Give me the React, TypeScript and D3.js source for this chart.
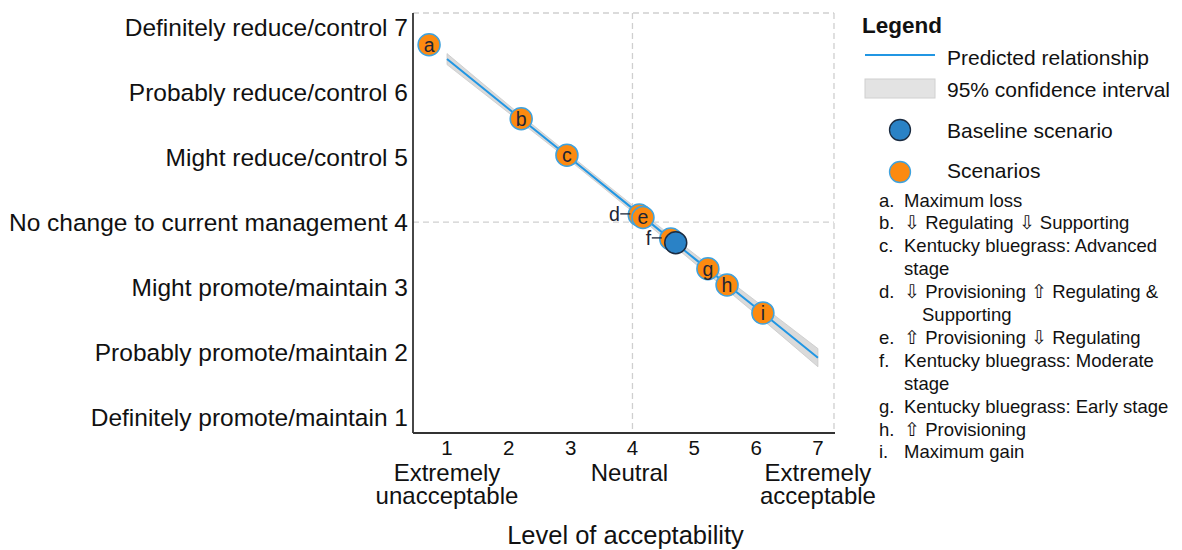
import React from "react";
import * as d3 from "d3";

const W = 1182;
const H = 550;

// Axis ticks
const xTicks = [1, 2, 3, 4, 5, 6, 7];
const yTicks = [1, 2, 3, 4, 5, 6, 7];
const yTickLabels = [
  "Definitely promote/maintain",
  "Probably promote/maintain",
  "Might promote/maintain",
  "No change to current management",
  "Might reduce/control",
  "Probably reduce/control",
  "Definitely reduce/control",
];
const xAnchorValues = [1, 4, 7];
const xAnchorLabels = [["Extremely", "unacceptable"], ["Neutral"], ["Extremely", "acceptable"]];

// Predicted relationship and 95% CI
const fitX = [1, 2, 3, 4, 5, 6, 7];
const fitY = [6.51, 5.74, 4.98, 4.21, 3.44, 2.68, 1.91];
const ciHalf = [0.085, 0.06, 0.045, 0.05, 0.07, 0.1, 0.14];

// Scenarios
const scenarioIds = ["a", "b", "c", "d", "e", "f", "g", "h", "i"];
const scenarioX = [0.71, 2.2, 2.94, 4.11, 4.17, 4.62, 5.22, 5.53, 6.11];
const scenarioY = [6.73, 5.59, 5.03, 4.11, 4.07, 3.74, 3.28, 3.03, 2.6];
const outsideLabel = ["d", "f"];

// Baseline
const baselineX = [4.7];
const baselineY = [3.68];

// Legend list
const legendItems: [string, string, number][] = [
  ["a.", "Maximum loss", 0],
  ["b.", "⇩ Regulating ⇩ Supporting", 0],
  ["c.", "Kentucky bluegrass: Advanced", 0],
  ["", "stage", 0],
  ["d.", "⇩ Provisioning ⇧ Regulating &", 0],
  ["", "Supporting", 18],
  ["e.", "⇧ Provisioning ⇩ Regulating", 0],
  ["f.", "Kentucky bluegrass: Moderate", 0],
  ["", "stage", 0],
  ["g.", "Kentucky bluegrass: Early stage", 0],
  ["h.", "⇧ Provisioning", 0],
  ["i.", "Maximum gain", 0],
];

const FONT = "'Liberation Sans', Arial, Helvetica, sans-serif";
const ORANGE = "#fc8a10";
const ORANGE_STROKE = "#3fa2de";
const BLUE = "#2a82c6";
const BLUE_STROKE = "#1b2b40";
const LINE_BLUE = "#2196e3";
const DARK = "#1d2435";

export default function App() {
  const x = d3.scaleLinear().domain([0.45, 7.26]).range([413, 834]);
  const y = d3.scaleLinear().domain([0.75, 7.22]).range([433, 13]);

  const fitPts = fitX.map((v, i) => ({ x: v, y: fitY[i], h: ciHalf[i] }));
  const line = d3
    .line<{ x: number; y: number }>()
    .x((d) => x(d.x))
    .y((d) => y(d.y));
  const area = d3
    .area<{ x: number; y: number; h: number }>()
    .x((d) => x(d.x))
    .y0((d) => y(d.y - d.h))
    .y1((d) => y(d.y + d.h))
    .curve(d3.curveMonotoneX);

  const r = 11;
  const [x0, x1] = x.range();
  const [yb, yt] = y.range();

  return (
    <svg
      width={W}
      height={H}
      style={{ position: "absolute", left: 0, top: 0, background: "#fff" }}
      fontFamily={FONT}
    >
      {/* grid / frame */}
      <g stroke="#cfcfcf" strokeWidth={1.3} strokeDasharray="6,4" fill="none">
        <line x1={x0} x2={x1} y1={yt} y2={yt} />
        <line x1={x1} x2={x1} y1={yt} y2={yb} />
        <line x1={x(4)} x2={x(4)} y1={yt} y2={yb} />
        <line x1={x0} x2={x1} y1={y(4)} y2={y(4)} />
      </g>

      {/* CI and fit */}
      <path d={area(fitPts) || ""} fill="#dadada" stroke="#c9c9c9" strokeWidth={0.8} />
      <path d={line(fitPts) || ""} fill="none" stroke={LINE_BLUE} strokeWidth={2} />

      {/* scenarios */}
      {scenarioIds.map((id, i) => {
        const cx = x(scenarioX[i]);
        const cy = y(scenarioY[i]);
        const outside = outsideLabel.includes(id);
        return (
          <g key={id}>
            <circle cx={cx} cy={cy} r={r} fill={ORANGE} stroke={ORANGE_STROKE} strokeWidth={1.5} />
            {!outside && (
              <text
                x={cx}
                y={cy}
                dy="0.35em"
                textAnchor="middle"
                fontSize={19.5}
                fill={DARK}
              >
                {id}
              </text>
            )}
            {outside && (
              <g>
                <line
                  x1={cx - r - 8}
                  x2={cx - r + 2}
                  y1={cy - 1}
                  y2={cy - 1}
                  stroke={DARK}
                  strokeWidth={1.3}
                />
                <text
                  x={cx - r - 8.5}
                  y={cy - 1}
                  dy="0.35em"
                  textAnchor="end"
                  fontSize={19.5}
                  fill={DARK}
                >
                  {id}
                </text>
              </g>
            )}
          </g>
        );
      })}
      {baselineX.map((v, i) => (
        <circle
          key={"b" + i}
          cx={x(v)}
          cy={y(baselineY[i])}
          r={r}
          fill={BLUE}
          stroke={BLUE_STROKE}
          strokeWidth={1.5}
        />
      ))}

      {/* axes */}
      <line x1={x0} x2={x0} y1={yt} y2={yb} stroke="#333" strokeWidth={1.8} />
      <line x1={x0} x2={x1 + 1} y1={yb} y2={yb} stroke="#333" strokeWidth={1.8} />

      {/* y tick labels */}
      {yTicks.map((t, i) => (
        <text
          key={"y" + t}
          x={408}
          y={y(t)}
          dy="0.36em"
          textAnchor="end"
          fontSize={24.5}
          fill="#111"
        >
          {yTickLabels[i] + " " + t}
        </text>
      ))}

      {/* x tick labels */}
      {xTicks.map((t) => (
        <text key={"x" + t} x={x(t)} y={455} textAnchor="middle" fontSize={20.5} fill="#111">
          {t}
        </text>
      ))}
      {xAnchorValues.map((v, i) => (
        <text key={"xa" + i} x={x(v) - (v === 4 ? 3 : 0)} textAnchor="middle" fontSize={24} fill="#111">
          {xAnchorLabels[i].map((s, j) => (
            <tspan key={j} x={x(v) - (v === 4 ? 3 : 0)} y={481 + j * 23}>
              {s}
            </tspan>
          ))}
        </text>
      ))}
      <text x={(x0 + x1) / 2 + 2} y={544} textAnchor="middle" fontSize={25.5} fill="#111">
        Level of acceptability
      </text>

      {/* legend */}
      <text x={862} y={33} fontSize={22.5} fontWeight="bold" fill="#111">
        Legend
      </text>
      <line x1={865} x2={935} y1={55} y2={55} stroke={LINE_BLUE} strokeWidth={2} />
      <text x={947} y={65} fontSize={21} fill="#111">
        Predicted relationship
      </text>
      <rect x={865} y={79} width={70} height={19} fill="#e3e3e3" stroke="#d0d0d0" strokeWidth={1} />
      <text x={947} y={97} fontSize={21} fill="#111">
        95% confidence interval
      </text>
      <circle cx={900} cy={130} r={10.5} fill={BLUE} stroke={BLUE_STROKE} strokeWidth={1.3} />
      <text x={947} y={138} fontSize={21} fill="#111">
        Baseline scenario
      </text>
      <circle cx={900} cy={172} r={10.5} fill={ORANGE} stroke={ORANGE_STROKE} strokeWidth={1.3} />
      <text x={947} y={178} fontSize={21} fill="#111">
        Scenarios
      </text>
      {legendItems.map(([k, s, ind], i) => (
        <g key={"l" + i}>
          {k && (
            <text x={879} y={206.5 + i * 22.9} fontSize={18.5} fill="#111">
              {k}
            </text>
          )}
          <text x={904 + ind} y={206.5 + i * 22.9} fontSize={18.5} fill="#111">
            {s}
          </text>
        </g>
      ))}
    </svg>
  );
}
